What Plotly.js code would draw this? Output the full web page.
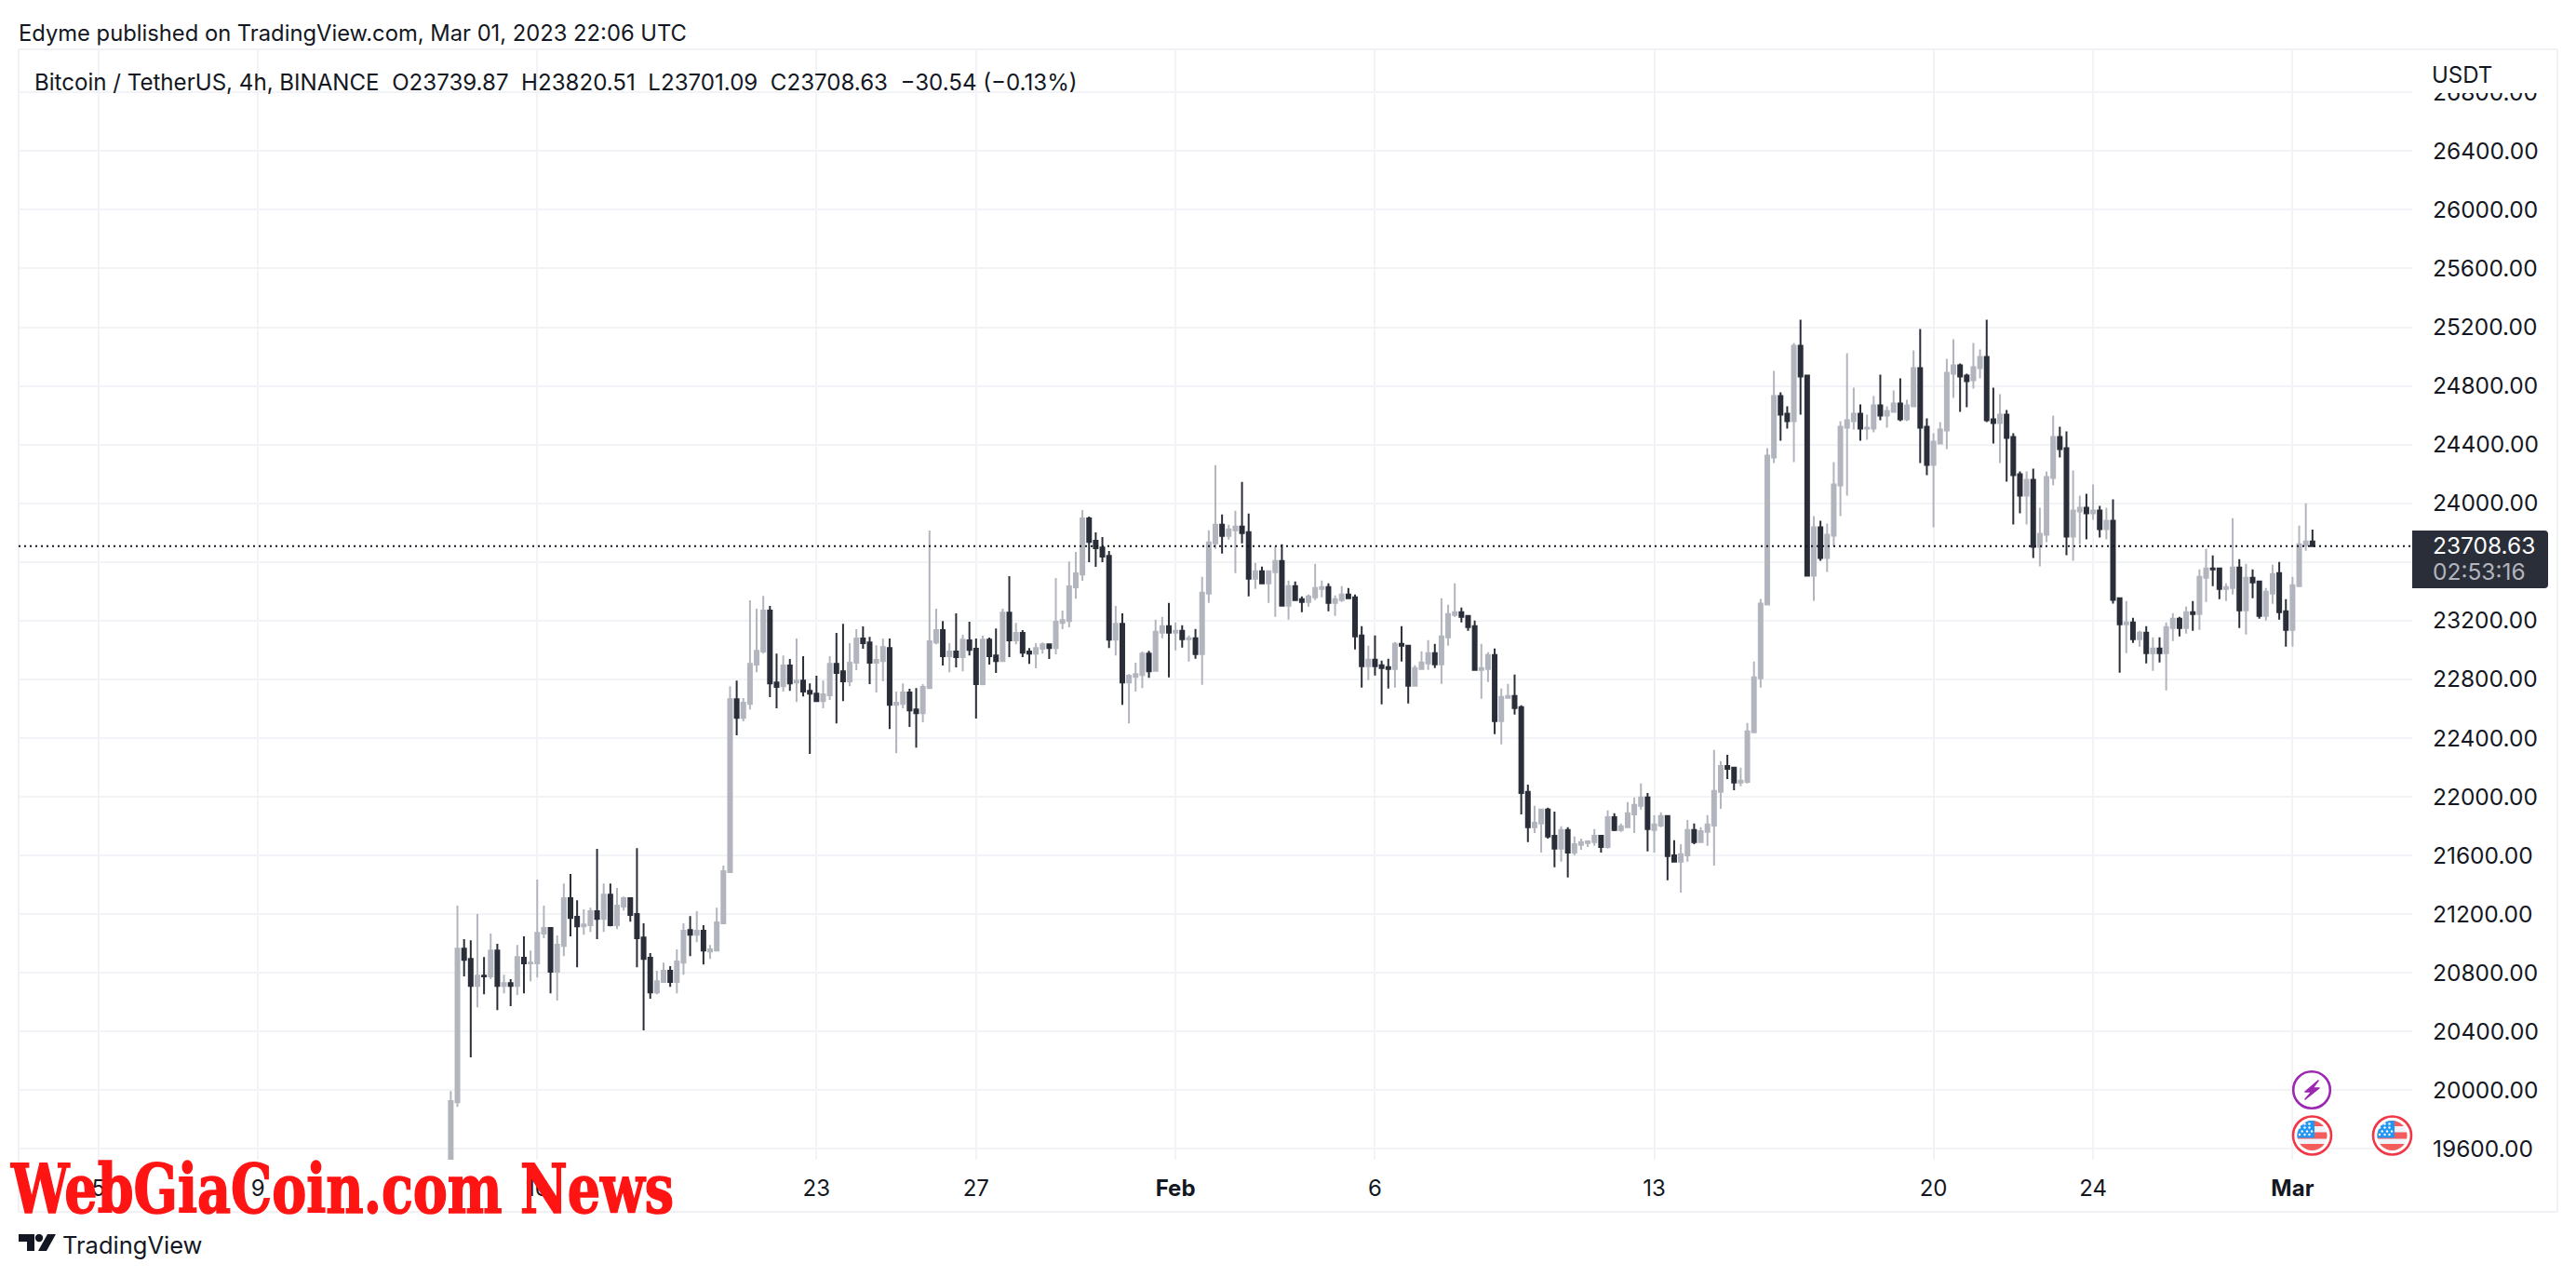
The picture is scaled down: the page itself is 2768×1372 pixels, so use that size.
<!DOCTYPE html>
<html>
<head>
<meta charset="utf-8">
<script src="https://cdn.plot.ly/plotly-3.0.1.min.js"></script>
<style>html,body{margin:0;padding:0;background:#fff}#chart{width:2768px;height:1372px}</style>
</head>
<body>
<div id="chart"></div>
<script>
const firstBarUtc = Date.UTC(2023, 0, 13, 20);
const barHours = 4;

const opens = [
19440,19918,20965,20895,20711,20781,20775,20952,20711,20730,
20711,20902,20864,20864,21067,21105,20807,20984,21308,21181,
21117,21124,21219,21168,21333,21124,21251,21308,21200,21041,
20902,20667,20737,20813,20737,20870,21092,21060,21086,20946,
20952,21137,21486,22665,22538,22633,22900,22989,23268,22779,
22754,22894,22779,22792,22722,22703,22652,22691,22906,22855,
22786,22913,23078,23052,22913,22925,23014,22627,22633,22710,
22595,22570,22741,23052,23135,22957,22989,22951,23065,23008,
22767,23071,22963,22925,23255,23065,23116,22989,22976,23008,
23039,23014,23185,23198,23427,23515,23896,23744,23699,23642,
23071,23179,22779,22817,22830,22976,22858,23118,23162,23118,
23131,23074,23080,22972,23384,23727,23854,23778,23816,23841,
23803,23486,23537,23454,23530,23607,23302,23435,23346,23327,
23359,23416,23429,23321,23340,23378,23359,23099,22890,22934,
22896,22883,22871,23042,23029,22756,22871,22909,22978,22902,
23086,23239,23258,23232,23162,22864,22871,22966,22515,22674,
22687,22610,22033,21792,21817,21912,21734,21646,21773,21620,
21671,21684,21690,21734,21658,21861,21773,21792,21880,21938,
21995,21773,21804,21868,21601,21557,21601,21773,21690,21760,
21804,22033,22210,22198,22096,22102,22439,22807,23310,24312,
24731,24610,24559,25073,24870,23506,23836,23627,23779,24122,
24515,24559,24610,24509,24509,24667,24598,24623,24680,24572,
24661,24921,24521,24261,24407,24496,24883,24940,24870,24839,
24921,24997,24572,24547,24604,24452,24198,24052,24160,23703,
23785,24172,24452,24375,23773,23944,23969,23931,23950,23823,
23881,23353,23175,23188,23073,23118,22978,23010,22978,23150,
23213,23150,23257,23245,23492,23556,23556,23416,23422,23562,
23270,23492,23467,23232,23384,23524,23264,23137,23435,23714,23739.87];

const highs = [
19994,21257,21029,21022,21200,20908,21067,20997,20787,20756,
20990,21048,20952,21435,21257,21111,21054,21409,21473,21295,
21232,21244,21644,21409,21409,21378,21320,21314,21650,21137,
20934,20813,20870,20845,20959,21137,21187,21219,21124,20990,
21244,21530,22754,22792,22672,23338,23281,23369,23300,22976,
22963,22938,23078,22957,22773,22824,22792,22957,23116,23179,
23046,23141,23160,23090,23033,23078,23078,22716,22773,22735,
22741,22767,23814,23281,23198,23046,23249,23103,23192,23078,
23097,23084,23147,23281,23503,23185,23135,23014,23046,23052,
23039,23490,23268,23604,23668,23953,23909,23801,23769,23674,
23300,23249,22836,22913,22989,22995,23207,23226,23321,23188,
23169,23099,23143,23499,23816,24260,23924,23854,23949,24146,
23930,23594,23568,23543,23708,23721,23473,23467,23365,23378,
23588,23473,23454,23372,23435,23423,23378,23162,23029,23099,
22928,22940,23055,23162,23036,22896,22991,23067,23042,23353,
23308,23454,23289,23239,23200,23042,22985,23010,22737,22769,
22833,22623,22083,21938,21918,21925,21899,21798,21792,21728,
21715,21703,21779,21734,21906,21887,21817,21963,21995,22090,
22026,21874,21893,21874,21703,21677,21842,21817,21792,21874,
22318,22242,22286,22204,22198,22502,22921,23348,24375,24902,
24756,24661,25092,25251,24877,23912,23881,23862,24280,24559,
25023,24788,24674,24604,24731,24877,24661,24769,24851,24705,
25042,25188,24579,24477,24553,24985,25118,24953,24883,25092,
25048,25251,24788,24743,24636,24477,24217,24217,24236,23969,
24217,24598,24521,24490,24223,24052,24065,24128,23982,23969,
24027,23353,23334,23219,23131,23162,23086,23086,23188,23251,
23226,23296,23334,23549,23689,23645,23562,23454,23898,23619,
23587,23549,23473,23422,23581,23600,23346,23499,23848,24000,23820.51];

const lows = [
19400,19886,20775,20223,20565,20654,20756,20546,20660,20572,
20648,20660,20743,20768,21035,20660,20610,20914,21048,20838,
21060,21079,21029,21079,21117,21098,21225,21149,20838,20407,
20623,20654,20737,20705,20660,20787,20914,21009,20857,20895,
20952,21137,21486,22418,22513,22595,22849,22976,22678,22602,
22716,22722,22646,22684,22291,22646,22602,22659,22500,22652,
22754,22862,23008,22767,22710,22786,22462,22297,22602,22475,
22335,22507,22741,23039,22894,22849,22881,22855,22963,22532,
22760,22900,22843,22925,22951,23039,22951,22906,22875,22976,
22938,22970,23141,23154,23350,23471,23598,23566,23598,23014,
22963,22627,22500,22716,22741,22811,22852,23080,22813,22997,
23016,22921,22940,22763,23321,23689,23657,23752,23524,23727,
23365,23416,23448,23321,23226,23302,23207,23334,23258,23296,
23340,23359,23264,23232,23327,23346,23004,22744,22794,22826,
22629,22737,22744,22921,22636,22750,22864,22864,22877,22769,
23029,23226,23188,23131,22858,22668,22782,22426,22357,22668,
22560,21880,21690,21753,21620,21715,21519,21557,21449,21601,
21639,21658,21665,21620,21646,21766,21760,21792,21753,21912,
21627,21620,21792,21430,21557,21347,21557,21677,21684,21665,
21531,21918,22121,22045,22071,22090,22439,22743,23303,24274,
24426,24509,24280,24604,23500,23335,23608,23532,23703,23912,
24052,24502,24426,24433,24483,24566,24515,24623,24559,24559,
24655,24274,24191,23836,24401,24369,24718,24623,24655,24782,
24851,24553,24407,24274,24147,23855,23931,23855,23627,23570,
23735,24122,24312,23646,23608,23722,23754,23887,23766,23754,
23316,22845,22978,23048,23023,22909,22858,22915,22725,23061,
23093,23112,23131,23137,23327,23435,23346,23334,23378,23150,
23105,23353,23213,23200,23315,23207,23023,23023,23429,23676,23701.09];

const closes = [
19925,20965,20889,20711,20781,20775,20952,20711,20730,20711,
20908,20864,20870,21073,21105,20807,20991,21308,21174,21117,
21130,21219,21168,21333,21124,21257,21308,21194,21035,20895,
20667,20743,20813,20737,20877,21086,21060,21086,20952,20959,
21143,21492,22665,22538,22640,22906,22995,23268,22773,22748,
22894,22773,22792,22716,22703,22652,22697,22906,22843,22786,
22913,23078,23046,22913,22932,23020,22627,22640,22710,22589,
22570,22748,23059,23135,22957,22989,22951,23071,23001,22767,
23071,22957,22925,23255,23065,23116,22982,22976,23014,23039,
23014,23192,23204,23433,23522,23896,23737,23693,23636,23071,
23179,22779,22824,22836,22976,22855,23124,23162,23118,23131,
23074,23080,22972,23391,23733,23854,23778,23822,23841,23797,
23486,23537,23454,23537,23607,23302,23435,23340,23327,23365,
23423,23429,23321,23346,23378,23353,23093,22890,22934,22890,
22877,22871,23042,23029,22756,22877,22915,22978,22902,23093,
23245,23258,23226,23156,22864,22877,22966,22515,22680,22687,
22604,22026,21792,21823,21912,21728,21646,21773,21620,21677,
21690,21696,21734,21658,21861,21773,21798,21887,21944,21995,
21779,21811,21868,21595,21557,21608,21773,21690,21766,21811,
22039,22210,22191,22096,22109,22445,22813,23316,24325,24731,
24604,24559,25073,24864,23506,23836,23627,23785,24128,24521,
24566,24610,24509,24515,24667,24598,24629,24680,24572,24667,
24921,24515,24261,24420,24502,24889,24940,24864,24832,24927,
24997,24566,24547,24604,24445,24191,24052,24160,23703,23792,
24179,24452,24369,23773,23950,23969,23931,23950,23823,23881,
23341,23175,23188,23073,23118,22978,23010,22978,23156,23213,
23150,23257,23245,23499,23556,23549,23416,23429,23562,23270,
23492,23461,23232,23397,23518,23257,23137,23441,23721,23740,23708.63];

const priceTicks = [19600,20000,20400,20800,21200,21600,22000,22400,22800,23200,23600,24000,24400,24800,25200,25600,26000,26400,26800];
const dateTicks = ['2023-01-05','2023-01-09','2023-01-16','2023-01-23','2023-01-27','2023-02-01','2023-02-06','2023-02-13','2023-02-20','2023-02-24','2023-03-01'];
const dateLabels = ['5','9','16','23','27','<b>Feb</b>','6','13','20','24','<b>Mar</b>'];

const lastPrice = 23708.63;
const headerText = 'Edyme published on TradingView.com, Mar 01, 2023 22:06 UTC';
const legendText = 'Bitcoin / TetherUS, 4h, BINANCE\u00A0\u00A0O23739.87\u00A0\u00A0H23820.51\u00A0\u00A0L23701.09\u00A0\u00A0C23708.63\u00A0\u00A0\u221230.54 (\u22120.13%)';
const watermarkText = 'WebGiaCoin.com News';

const UP = '#B2B5BE', DOWN = '#2A2E39', GRID = '#F2F3F6', FRAME = '#F0F1F5', INK = '#131722';
const SANS = 'Inter, "Open Sans", sans-serif';

// plot box in page pixels
const L = 20, R = 2592, T = 53, B = 1246;
const fx = x => (x - L) / (R - L);
const fy = y => (B - y) / (B - T);

const times = opens.map((_, i) => new Date(firstBarUtc + i * barHours * 3600000).toISOString().slice(0, 19));

function hline(y, x0, x1, color, width) {
  return {type: 'line', xref: 'paper', yref: 'paper', x0: fx(x0), x1: fx(x1), y0: fy(y), y1: fy(y), line: {color, width}, layer: 'below'};
}
function vline(x, y0, y1, color, width) {
  return {type: 'line', xref: 'paper', yref: 'paper', x0: fx(x), x1: fx(x), y0: fy(y0), y1: fy(y1), line: {color, width}, layer: 'below'};
}
function note(text, x, y, size, color, extra) {
  return Object.assign({text, xref: 'paper', yref: 'paper', x: fx(x), y: fy(y), xanchor: 'left', yanchor: 'middle',
    showarrow: false, align: 'left', font: {family: SANS, size, color}, borderpad: 0}, extra || {});
}
function icon(svg, x, y, w, h) {
  return {source: 'data:image/svg+xml;charset=utf-8,' + encodeURIComponent(svg), xref: 'paper', yref: 'paper',
    x: fx(x), y: fy(y), sizex: w / (R - L), sizey: h / (B - T), xanchor: 'left', yanchor: 'top', sizing: 'stretch', layer: 'above'};
}

const starRows = [[15, 12, 20], [9.5, 15, 20], [12.2, 17.5, 22.5], [9.5, 15, 20]];
let stars = '';
[10.5, 14.5, 18.5, 22].forEach((cy, r) => starRows[r].forEach(cx => {
  stars += '<circle cx="' + cx + '" cy="' + cy + '" r="1.2" fill="#fff"/>';
}));
const flagSvg = '<svg xmlns="http://www.w3.org/2000/svg" width="46" height="46" viewBox="0 0 46 46">' +
  '<defs><clipPath id="c"><circle cx="23" cy="23" r="16"/></clipPath></defs>' +
  '<circle cx="23" cy="23" r="20.5" fill="#fff" stroke="#F23645" stroke-width="2.6"/>' +
  '<g clip-path="url(#c)"><rect x="6" y="6" width="34" height="34" fill="#F1F3FA"/>' +
  '<rect x="6" y="6" width="34" height="7" fill="#F45B5B"/><rect x="6" y="19.5" width="34" height="7" fill="#F45B5B"/>' +
  '<rect x="6" y="32" width="34" height="8" fill="#F45B5B"/><rect x="6" y="6" width="19.5" height="19.5" fill="#2196F3"/></g>' +
  stars + '</svg>';
const boltSvg = '<svg xmlns="http://www.w3.org/2000/svg" width="44" height="44" viewBox="0 0 44 44">' +
  '<circle cx="22" cy="22" r="19.8" fill="#fff" stroke="#9C27B0" stroke-width="2.6"/>' +
  '<path d="M29 12 L15 24 L22 24 L15 32 L30 20 L23 20 Z" fill="#9C27B0" stroke="#9C27B0" stroke-width="1.6" stroke-linejoin="round"/></svg>';
const logoSvg = '<svg xmlns="http://www.w3.org/2000/svg" width="40" height="19" viewBox="0 0 40 19">' +
  '<path d="M0 0 H17 V18 H9 V8 H0 Z" fill="#131722"/><circle cx="22" cy="4" r="4.2" fill="#131722"/>' +
  '<path d="M31 0 H40 L30 18 H21 Z" fill="#131722"/></svg>';

const trace = {
  type: 'candlestick', x: times, open: opens, high: highs, low: lows, close: closes,
  increasing: {line: {color: UP, width: 2}, fillcolor: UP},
  decreasing: {line: {color: DOWN, width: 2}, fillcolor: DOWN},
  whiskerwidth: 0, hoverinfo: 'skip', showlegend: false
};

const layout = {
  width: 2768, height: 1372, paper_bgcolor: '#fff', plot_bgcolor: '#fff',
  margin: {l: L, r: 2768 - R, t: T, b: 1372 - B, pad: 0}, showlegend: false, boxgap: 0.44, boxgroupgap: 0,
  font: {family: SANS, color: INK, size: 24},
  xaxis: {type: 'date', range: ['2023-01-03', '2023-03-04'], rangeslider: {visible: false}, tickmode: 'array',
    tickvals: dateTicks, ticktext: dateLabels, ticks: '', tickangle: 0, showline: false, zeroline: false,
    showgrid: true, gridcolor: GRID, gridwidth: 2, tickfont: {family: SANS, size: 24, color: INK}, ticklabelstandoff: 14},
  yaxis: {side: 'right', range: [19526, 27093.7], tickmode: 'array', tickvals: priceTicks,
    ticktext: priceTicks.map(v => v.toFixed(2)), ticks: '', showline: false, zeroline: false, showgrid: true,
    gridcolor: GRID, gridwidth: 2, tickfont: {family: SANS, size: 24.5, color: INK}, ticklabelstandoff: 21},
  shapes: [
    hline(T, L, 2748, FRAME, 2), hline(1302, L, 2748, FRAME, 2), vline(L, T, 1302, FRAME, 2), vline(2748, T, 1302, FRAME, 2),
    {type: 'line', xref: 'paper', yref: 'y', x0: 0, x1: 1, y0: lastPrice, y1: lastPrice, line: {color: INK, width: 2, dash: '2px,4px'}, layer: 'above'},
    {type: 'rect', xref: 'paper', yref: 'paper', x0: fx(2593), x1: fx(2747), y0: fy(54), y1: fy(100), fillcolor: '#fff', line: {width: 0}, layer: 'above'},
    {type: 'path', xref: 'paper', yref: 'paper', layer: 'above', fillcolor: DOWN, line: {width: 0},
      path: ['M', fx(R), fy(570), 'L', fx(2734), fy(570), 'Q', fx(2738), fy(570), fx(2738), fy(574), 'L', fx(2738), fy(628),
             'Q', fx(2738), fy(632), fx(2734), fy(632), 'L', fx(R), fy(632), 'Z'].join(' ')}
  ],
  annotations: [
    note(headerText, 19, 35, 23.75, INK),
    note(legendText, 35.5, 89, 24.1, INK),
    note('USDT', 2612, 80, 24, INK),
    note(lastPrice.toFixed(2), 2613, 586, 24.5, '#FFFFFF'),
    note('02:53:16', 2613, 614, 24.5, '#B2B5BE'),
    note('TradingView', 66, 1337, 25.5, INK),
    note(watermarkText, 10, 1277, 72, '#FF1414', {font: {family: '"DejaVu Serif Condensed","DejaVu Serif",serif', size: 72, color: '#FF1414', weight: 700}})
  ],
  images: [
    icon(boltSvg, 2462, 1149, 44, 44),
    icon(flagSvg, 2461.5, 1197, 46, 46),
    icon(flagSvg, 2547.5, 1197, 46, 46),
    icon(logoSvg, 20, 1326, 40, 19)
  ]
};

Plotly.newPlot('chart', [trace], layout, {staticPlot: true, displayModeBar: false, responsive: false}).then(() => {
  const texts = document.querySelectorAll('.annotation-text');
  const wm = texts[texts.length - 1];
  if (wm) {
    wm.setAttribute('textLength', '712');
    wm.setAttribute('lengthAdjust', 'spacingAndGlyphs');
    wm.style.stroke = '#FF1414';
    wm.style.strokeWidth = '1.5px';
  }
});
</script>
</body>
</html>
